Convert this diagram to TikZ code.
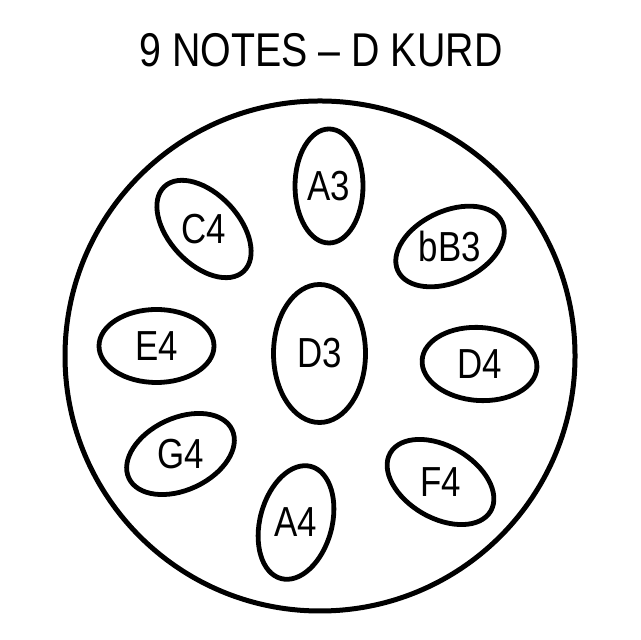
\documentclass[tikz,border=0pt]{standalone}
\usepackage{fontspec}
\setmainfont[FakeStretch=0.83]{Liberation Sans}
\tikzset{%
  rim/.style   = {line width=2.5pt},%
  pad/.style   = {line width=2.4pt},%
  note/.style  = {inner sep=0pt, font=\fontsize{21}{21}\selectfont},%
  title/.style = {inner sep=0pt, font=\fontsize{23.7}{24}\selectfont}%
}
\begin{document}
\begin{tikzpicture}[x=0.5pt, y=0.5pt]
  \useasboundingbox (0,0) rectangle (640,640);
  % -------------- HEADING -----------------------------
  \node[title] (head) at (321,590) {9 NOTES – D KURD};
  % -------------- SHELL -----------------------------
  \coordinate (mid) at (320,284);
  \draw[rim] (mid) circle [radius=255];
  % -------------- TONE FIELDS -----------------------------
  \foreach \name/\x/\y/\a/\b/\ang in {A3/329/454/34/57/0,
      C4/204/411/58/35/-47, bB3/450/393.5/57.5/35.5/25,
      E4/156.5/294/57.5/36.5/0, D3/319.5/286.5/46/69/0,
      D4/479.5/276/57.5/36.5/-4, G4/180.5/186/57/36/25,
      A4/296/117.5/36/58/-15, F4/440.5/158/58/36/-30}
  {
    \draw[pad, rotate around={\ang:(\x,\y)}] (\x,\y) ellipse [x radius=\a, y radius=\b];
    \node[note] (\name) at (\x,\y) {\name};
  }
\end{tikzpicture}
\end{document}
